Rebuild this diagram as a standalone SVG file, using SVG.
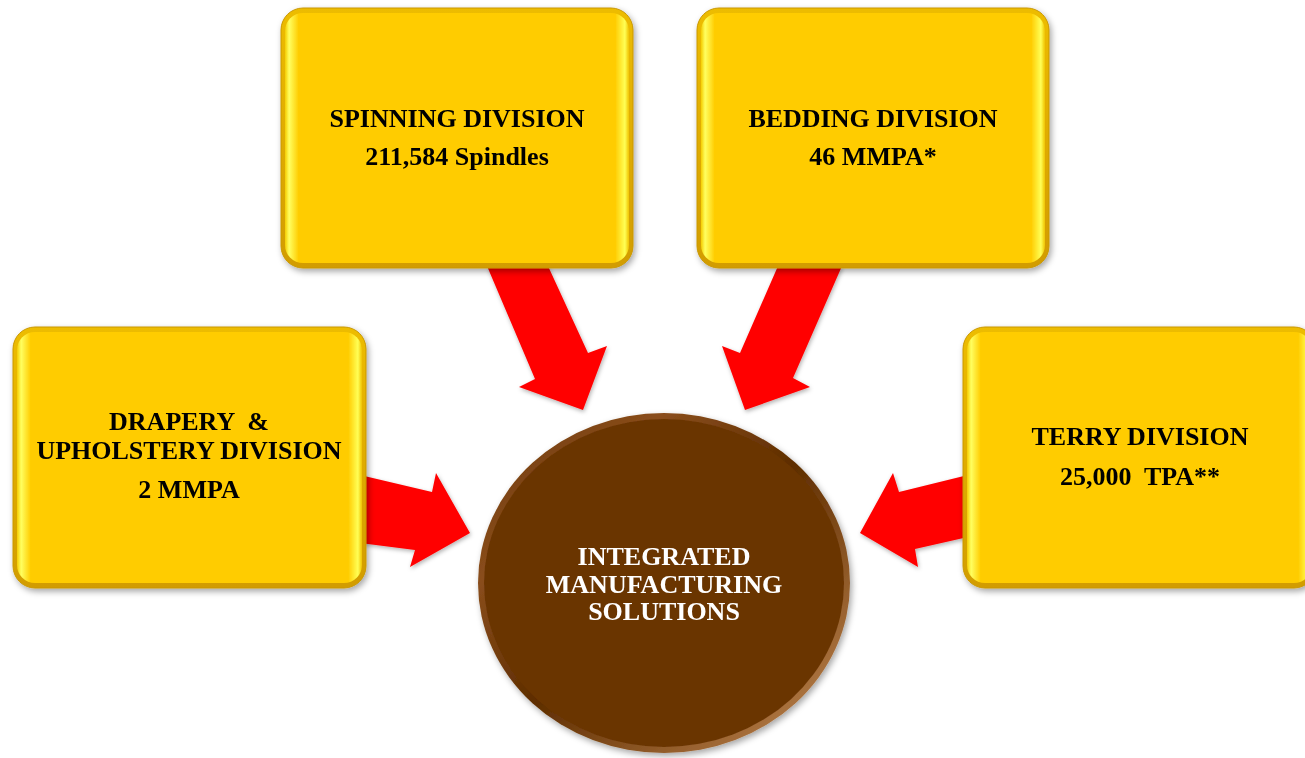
<svg xmlns="http://www.w3.org/2000/svg" width="1305" height="758" viewBox="0 0 1305 758">
  <defs>
    <filter id="shadow" x="-10%" y="-10%" width="130%" height="130%">
      <feDropShadow dx="2" dy="3" stdDeviation="3" flood-color="#000" flood-opacity="0.35"/>
    </filter>
    <filter id="ashadow" x="-20%" y="-20%" width="150%" height="150%">
      <feDropShadow dx="1" dy="2" stdDeviation="2" flood-color="#000" flood-opacity="0.3"/>
    </filter>
    <linearGradient id="goldEdge" x1="0" y1="0" x2="0" y2="1">
      <stop offset="0" stop-color="#EDBC00"/>
      <stop offset="1" stop-color="#D29C00"/>
    </linearGradient>
    <linearGradient id="goldFace" x1="0" y1="0" x2="1" y2="0">
      <stop offset="0" stop-color="#F5CC00"/>
      <stop offset="0.012" stop-color="#FFFF60"/>
      <stop offset="0.04" stop-color="#FFCC00"/>
      <stop offset="0.96" stop-color="#FFCC00"/>
      <stop offset="0.988" stop-color="#FFFF55"/>
      <stop offset="1" stop-color="#F0C200"/>
    </linearGradient>
    <linearGradient id="rim" x1="0" y1="0" x2="1" y2="1">
      <stop offset="0" stop-color="#6A3402"/>
      <stop offset="0.25" stop-color="#8A4E1C"/>
      <stop offset="0.5" stop-color="#5E2D00"/>
      <stop offset="0.85" stop-color="#A8703C"/>
      <stop offset="1" stop-color="#6A3402"/>
    </linearGradient>
    <style>
      .box-edge { fill: url(#goldEdge); stroke: #C99700; stroke-width: 1; }
      .box-face { fill: url(#goldFace); }
      .arrow { fill: #FF0000; filter: url(#ashadow); }
      .lbl { font-family: "Liberation Serif", "Times New Roman", serif; font-weight: bold; font-size: 26px; fill: #000; text-anchor: middle; }
      .lbl-w { font-family: "Liberation Serif", "Times New Roman", serif; font-weight: bold; font-size: 26px; fill: #FFFFFF; text-anchor: middle; }
    </style>
  </defs>
  <rect width="1305" height="758" fill="#FFFFFF"/>

  <g id="connectors">
    <polygon class="arrow" points="487,266 548,266 588,353 607,346 583,410 519,387 535,379"/>
    <polygon class="arrow" points="778,266 740,353 722,346 745,410 810,387 793,378 842,266"/>
    <polygon class="arrow" points="360,475 432,492 436,473 470,533 410,567 415,550 360,543"/>
    <polygon class="arrow" points="968,475 899,492 893,473 860,533 918,567 915,549 968,537"/>
  </g>

  <g id="node-spinning" filter="url(#shadow)">
    <rect class="box-edge" x="281" y="8" width="352" height="260" rx="22"/>
    <rect class="box-face" x="285" y="13" width="344" height="250" rx="18"/>
    <text class="lbl" x="457" y="127">SPINNING DIVISION</text>
    <text class="lbl" x="457" y="165">211,584 Spindles</text>
  </g>

  <g id="node-bedding" filter="url(#shadow)">
    <rect class="box-edge" x="697" y="8" width="352" height="260" rx="22"/>
    <rect class="box-face" x="701" y="13" width="344" height="250" rx="18"/>
    <text class="lbl" x="873" y="127">BEDDING DIVISION</text>
    <text class="lbl" x="873" y="165">46 MMPA*</text>
  </g>

  <g id="node-drapery" filter="url(#shadow)">
    <rect class="box-edge" x="13" y="327" width="353" height="261" rx="22"/>
    <rect class="box-face" x="17" y="332" width="345" height="251" rx="18"/>
    <text class="lbl" x="189" y="430" xml:space="preserve">DRAPERY  &amp;</text>
    <text class="lbl" x="189" y="459">UPHOLSTERY DIVISION</text>
    <text class="lbl" x="189" y="498">2 MMPA</text>
  </g>

  <g id="node-terry" filter="url(#shadow)">
    <rect class="box-edge" x="963" y="327" width="353" height="261" rx="22"/>
    <rect class="box-face" x="967" y="332" width="345" height="251" rx="18"/>
    <text class="lbl" x="1140" y="445">TERRY DIVISION</text>
    <text class="lbl" x="1140" y="485" xml:space="preserve">25,000  TPA**</text>
  </g>

  <g id="node-center" filter="url(#shadow)">
    <ellipse cx="664" cy="583" rx="186" ry="170" fill="url(#rim)"/>
    <ellipse cx="664" cy="583" rx="180" ry="164" fill="#6B3604"/>
    <text class="lbl-w" x="664" y="565">INTEGRATED</text>
    <text class="lbl-w" x="664" y="593">MANUFACTURING</text>
    <text class="lbl-w" x="664" y="620">SOLUTIONS</text>
  </g>
</svg>
